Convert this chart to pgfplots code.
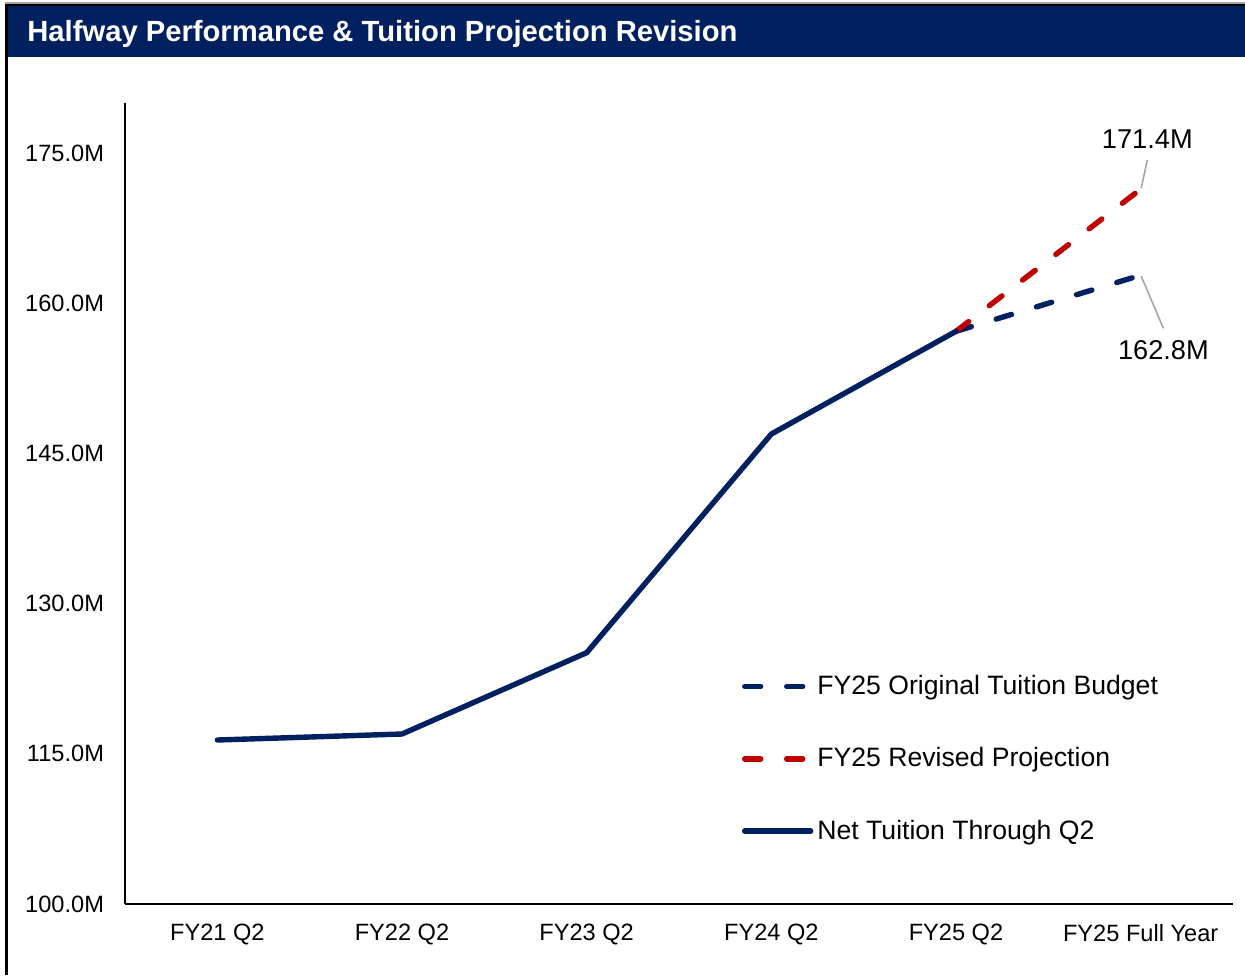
\documentclass[border=0pt]{standalone}
\usepackage{pgfplots}
\pgfplotsset{compat=1.18}
\usepackage{fontspec}
\setmainfont{Liberation Sans}
\definecolor{navy}{RGB}{0,32,96}
\definecolor{dred}{RGB}{192,0,0}
\definecolor{leader}{RGB}{166,166,166}
\begin{document}
\begin{tikzpicture}
% page = 1245 x 975 px at 0.5pt per px
\useasboundingbox (0,0) rectangle (622.5pt,-487.5pt);
% frame and title bar
\draw[leader, line width=0.8pt] (2.5pt,-1.6pt) -- (622.5pt,-1.6pt);
\draw[black, line width=1pt] (2.5pt,-2.5pt) -- (622.5pt,-2.5pt);
\draw[black, line width=1.5pt] (3.25pt,-2pt) -- (3.25pt,-487.5pt);
\fill[navy] (4pt,-3pt) rectangle (622.5pt,-28.5pt);
\node[anchor=base west, inner sep=0pt, text=white,
      font=\fontsize{14.6}{16}\selectfont\bfseries]
  at (13.5pt,-20.85pt) {Halfway Performance \& Tuition Projection Revision};

\begin{axis}[
    at={(62.5pt,-452pt)}, anchor=south west,
    scale only axis, width=554pt, height=400.5pt,
    xmin=-0.5, xmax=5.5, ymin=100, ymax=180,
    axis x line*=bottom, axis y line*=left,
    axis line style={-, black, line width=1pt},
    major tick length=0pt,
    xtick={0,...,5},
    xticklabels={FY21 Q2, FY22 Q2, FY23 Q2, FY24 Q2, FY25 Q2, FY25 Full Year},
    ytick={100,115,130,145,160,175},
    yticklabels={100.0M, 115.0M, 130.0M, 145.0M, 160.0M, 175.0M},
    ticklabel style={font=\fontsize{11.8}{14}\selectfont},
    yticklabel style={xshift=-7pt},
    xticklabel style={yshift=-6.6pt},
    clip=false,
    legend style={
        at={(axis cs:2.839,114.5)}, anchor=west,
        draw=none, fill=none, inner sep=0pt,
        row sep=21pt,
        font=\fontsize{13.3}{15}\selectfont,
    },
    legend cell align=left,
    legend image code/.code={\draw[#1] (0pt,0pt) -- (33pt,0pt);},
]
% FY25 original budget
\addplot[navy, line width=2.7pt, line cap=round, dash pattern=on 8pt off 13pt]
    coordinates {(4,157.2) (5,162.8)};
\addlegendentry{FY25 Original Tuition Budget}
% FY25 revised projection
\addplot[dred, line width=2.7pt, line cap=round, dash pattern=on 8pt off 13pt]
    coordinates {(4,157.2) (5,171.4)};
\addlegendentry{FY25 Revised Projection}
% net tuition through Q2
\addplot[navy, line width=2.7pt, line cap=round, line join=round]
    coordinates {(0,116.38) (1,116.98) (2,125.1) (3,146.94) (4,157.2)};
\addlegendentry{Net Tuition Through Q2}

% value labels with leader lines
\draw[leader, line width=0.8pt] (axis cs:5.036,174.3) -- (axis cs:5.003,171.5);
\draw[leader, line width=0.8pt] (axis cs:5.003,162.7) -- (axis cs:5.123,157.5);
\node[font=\fontsize{13.6}{15}\selectfont] at (axis cs:5.036,176.4) {171.4M};
\node[font=\fontsize{13.6}{15}\selectfont] at (axis cs:5.123,155.3) {162.8M};
\end{axis}
\end{tikzpicture}
\end{document}
